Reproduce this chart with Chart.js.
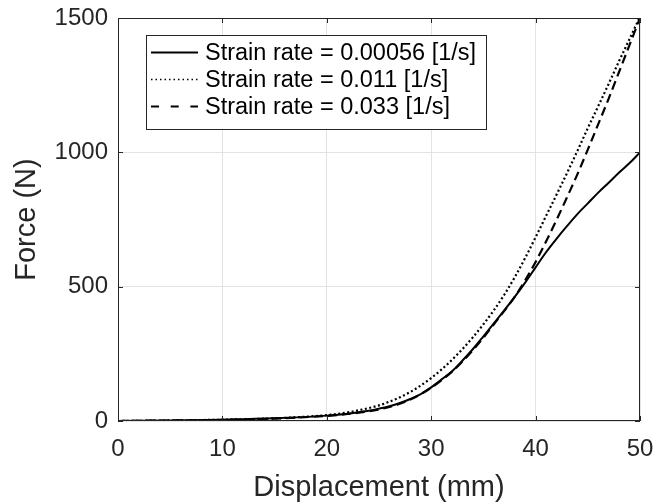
<!DOCTYPE html>
<html>
<head>
<meta charset="utf-8">
<script src="https://cdn.jsdelivr.net/npm/chart.js@4/dist/chart.umd.min.js"></script>
<style>
  html, body { margin: 0; padding: 0; background: #fff; }
  #wrap { width: 654px; height: 502px; }
</style>
</head>
<body>
<div id="wrap"><canvas id="myChart" width="654" height="502"></canvas></div>
<script>
// Datos
const desplazamiento = [0, 5, 10, 15, 20, 22, 24, 25, 26, 27, 28, 29, 30, 31, 32, 33, 34, 35, 36, 37, 38, 39, 40, 41, 42, 43, 44, 45, 46, 47, 48, 49, 50];
const fuerzaLenta = [0, 2, 5, 10, 20, 27, 38, 46, 55, 67, 82, 100, 125, 155, 185, 225, 268, 315, 363, 412, 462, 515, 572, 628, 678, 725, 770, 810, 850, 887, 925, 960, 1000];
const fuerzaMedia = [0, 2, 5, 10, 22, 32, 48, 58, 72, 88, 108, 132, 160, 192, 228, 268, 312, 360, 412, 470, 535, 607, 684, 763, 842, 922, 1005, 1090, 1172, 1255, 1340, 1422, 1505];
const fuerzaRapida = [0, 2, 4, 9, 19, 26, 36, 43, 52, 64, 80, 100, 124, 152, 184, 222, 264, 310, 360, 410, 462, 524, 592, 668, 748, 832, 918, 1010, 1105, 1200, 1300, 1400, 1500];
const etiquetas = ['Strain rate = 0.00056 [1/s]', 'Strain rate = 0.011 [1/s]', 'Strain rate = 0.033 [1/s]'];
const ticksX = [0, 10, 20, 30, 40, 50];
const ticksY = [0, 500, 1000, 1500];

const toPts = arr => arr.map((v, i) => ({ x: desplazamiento[i], y: v }));
const gris = '#262626';
const fuente = 'Liberation Sans, Arial, sans-serif';

// Caja estilo MATLAB con marcas hacia dentro
const cajaPlugin = {
  id: 'caja',
  afterDatasetsDraw(chart) {
    const { ctx, chartArea: a, scales } = chart;
    ctx.save();
    ctx.strokeStyle = gris;
    ctx.lineWidth = 1;
    ctx.strokeRect(a.left + 0.5, a.top + 0.5, a.right - a.left - 1, a.bottom - a.top - 1);
    const len = 5;
    ctx.beginPath();
    ticksX.forEach(t => {
      const px = Math.round(scales.x.getPixelForValue(t)) + 0.5;
      ctx.moveTo(px, a.bottom); ctx.lineTo(px, a.bottom - len);
      ctx.moveTo(px, a.top); ctx.lineTo(px, a.top + len);
    });
    ticksY.forEach(t => {
      const py = Math.round(scales.y.getPixelForValue(t)) + 0.5;
      ctx.moveTo(a.left, py); ctx.lineTo(a.left + len, py);
      ctx.moveTo(a.right, py); ctx.lineTo(a.right - len, py);
    });
    ctx.stroke();
    ctx.restore();
  }
};

// Leyenda dentro del area de la grafica
const leyendaPlugin = {
  id: 'leyenda',
  afterDraw(chart) {
    const { ctx, chartArea: a } = chart;
    const x0 = a.left + 28, y0 = a.top + 17, w = 340, h = 94;
    ctx.save();
    ctx.fillStyle = '#fff';
    ctx.fillRect(x0, y0, w, h);
    ctx.strokeStyle = gris;
    ctx.lineWidth = 1;
    ctx.setLineDash([]);
    ctx.strokeRect(x0 + 0.5, y0 + 0.5, w, h);
    const dashes = [[], [1.5, 3], [8, 11.7]];
    chart.data.datasets.forEach((ds, i) => {
      const y = y0 + 17.5 + i * 27;
      ctx.beginPath();
      ctx.setLineDash(dashes[i]);
      ctx.lineWidth = i === 1 ? 1.5 : 2;
      ctx.strokeStyle = '#000';
      ctx.moveTo(x0 + 5, y);
      ctx.lineTo(x0 + 52, y);
      ctx.stroke();
      ctx.setLineDash([]);
      ctx.fillStyle = '#000';
      ctx.font = '23.5px ' + fuente;
      ctx.textBaseline = 'middle';
      ctx.fillText(ds.label, x0 + 59, y + 1);
    });
    ctx.restore();
  }
};

const ctx = document.getElementById('myChart');
new Chart(ctx, {
  type: 'line',
  data: {
    datasets: [
      { label: etiquetas[0], data: toPts(fuerzaLenta), borderColor: '#000', borderWidth: 2, pointRadius: 0, cubicInterpolationMode: 'monotone' },
      { label: etiquetas[1], data: toPts(fuerzaMedia), borderColor: '#000', borderWidth: 2.2, borderDash: [2, 2.5], pointRadius: 0, cubicInterpolationMode: 'monotone' },
      { label: etiquetas[2], data: toPts(fuerzaRapida), borderColor: '#000', borderWidth: 2.2, borderDash: [9, 5], pointRadius: 0, cubicInterpolationMode: 'monotone' }
    ]
  },
  options: {
    responsive: false,
    animation: false,
    layout: { padding: { top: 18, right: 14, left: 0, bottom: 0 } },
    plugins: { legend: { display: false }, tooltip: { enabled: false } },
    scales: {
      x: {
        type: 'linear', min: 0, max: 50,
        afterBuildTicks: s => { s.ticks = ticksX.map(v => ({ value: v })); },
        afterFit: s => { s.height = 81; s.paddingLeft = 0; s.paddingRight = 0; },
        grid: { color: '#e3e3e3', drawTicks: false },
        border: { display: false },
        ticks: { color: gris, padding: 14, callback: v => String(v), font: { family: fuente, size: 24 } },
        title: { display: true, text: 'Displacement (mm)', color: gris, padding: { top: 1, bottom: 0 }, font: { family: fuente, size: 29, lineHeight: 1 } }
      },
      y: {
        min: 0, max: 1500,
        afterBuildTicks: s => { s.ticks = ticksY.map(v => ({ value: v })); },
        afterFit: s => { s.width = 118; s.paddingTop = 0; s.paddingBottom = 0; },
        grid: { color: '#e3e3e3', drawTicks: false },
        border: { display: false },
        ticks: { color: gris, padding: 10, callback: v => String(v), font: { family: fuente, size: 24 } },
        title: { display: true, text: 'Force (N)', color: gris, padding: { top: 12, bottom: 0 }, font: { family: fuente, size: 29, lineHeight: 1 } }
      }
    }
  },
  plugins: [cajaPlugin, leyendaPlugin]
});
</script>
</body>
</html>
